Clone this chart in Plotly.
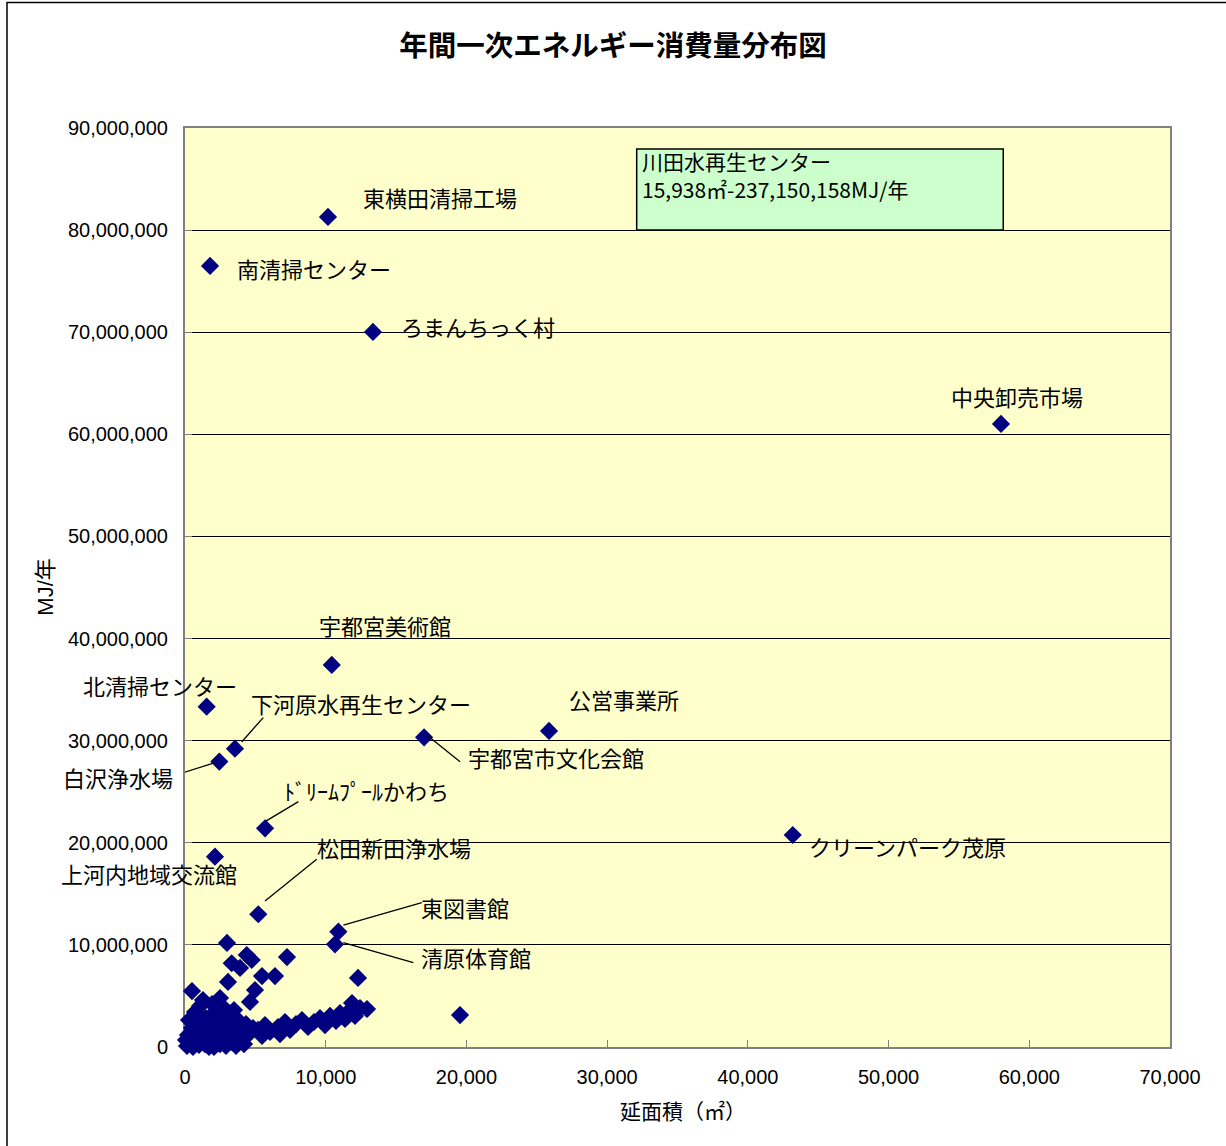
import plotly.graph_objects as go

# --- Named facilities: floor area (m²) and annual primary energy (MJ/year) ---
named_facilities = [
    "東横田清掃工場", "南清掃センター", "ろまんちっく村", "中央卸売市場",
    "宇都宮美術館", "北清掃センター", "下河原水再生センター", "公営事業所",
    "宇都宮市文化会館", "白沢浄水場", "ﾄﾞﾘｰﾑﾌﾟｰﾙかわち", "クリーンパーク茂原",
    "上河内地域交流館", "松田新田浄水場", "東図書館", "清原体育館",
]
named_area = [
    10160, 1780, 13360, 57990,
    10430, 1540, 3550, 25870,
    16990, 2440, 5690, 43190,
    2130, 5210, 10900, 10660,
]
named_energy = [
    81290000, 76490000, 70030000, 61020000,
    37420000, 33330000, 29220000, 30950000,
    30330000, 27950000, 21420000, 20760000,
    18640000, 13000000, 11290000, 10060000,
]

# --- Other facilities (unlabelled) ---
other_area = [
    2985, 4385, 3319, 3909, 4740, 7249, 5472, 6396, 3056, 12295,
    497, 4975, 4620, 1279, 2487, 12935, 11869, 19545,
    5188, 5686, 6041, 6610, 7107, 7462, 7889, 8315, 8742, 9168,
    9594, 9950, 10305, 10732, 11016, 11371, 11727, 12082, 12437,
    4477, 4833, 5472, 4122, 6752,
    142, 355, 569, 782, 995, 1208, 1421, 1635, 1848, 2061,
    2274, 2487, 2701, 2914, 3127, 3340, 3625, 3909, 4193,
    213, 497, 853, 1137, 1492, 1777, 2132, 2345, 2630, 2914,
    3198, 3482, 3767, 4051, 711, 1066, 1919, 2772, 3625, 4335,
    284, 71, 1706, 3056,
]
other_energy = [
    10190000, 9010000, 8200000, 7740000, 8520000, 8810000, 6950000, 6950000, 6370000, 6760000,
    5480000, 5580000, 4410000, 4600000, 4800000, 3720000, 4310000, 3130000,
    1670000, 2150000, 1470000, 1960000, 2450000, 1670000, 2250000, 2640000, 1960000, 2450000,
    2840000, 2150000, 3040000, 2550000, 3330000, 2740000, 3620000, 3040000, 3820000,
    1180000, 1860000, 1080000, 1670000, 1270000,
    100000, 390000, 0, 690000, 200000, 880000, 290000, 1180000, 490000, 0,
    980000, 290000, 690000, 100000, 1270000, 490000, 100000, 880000, 290000,
    1180000, 1860000, 2450000, 1670000, 2840000, 2060000, 3430000, 2450000, 1760000, 3040000,
    2250000, 3620000, 2640000, 1860000, 3430000, 4020000, 4210000, 3820000, 1470000, 2250000,
    2640000, 690000, 0, 690000,
]

# --- Off-scale facility, reported in a text box ---
offscale_name = "川田水再生センター"
offscale_area = 15938
offscale_energy = 237150158

# Axis ticks
x_ticks = [0, 10000, 20000, 30000, 40000, 50000, 60000, 70000]
y_ticks = [0, 10000000, 20000000, 30000000, 40000000, 50000000,
           60000000, 70000000, 80000000, 90000000]

# Label placement (pixel offsets from the marker: dx to the text's left edge, dy up)
label_offset = {
    "東横田清掃工場": (33, 20), "南清掃センター": (25, -2), "ろまんちっく村": (26, 6),
    "中央卸売市場": (-52, 28), "宇都宮美術館": (-15, 40), "北清掃センター": (-126, 22),
    "下河原水再生センター": (14, 46), "公営事業所": (18, 32), "宇都宮市文化会館": (42, -20),
    "白沢浄水場": (-158, -15), "ﾄﾞﾘｰﾑﾌﾟｰﾙかわち": (17, 38), "クリーンパーク茂原": (14, -11),
    "上河内地域交流館": (-156, -16), "松田新田浄水場": (57, 67), "東図書館": (81, 25),
    "清原体育館": (84, -13),
}
# Leader lines (pixel offsets from the marker: x0, y0, x1, y1, y up)
leader_lines = {
    "下河原水再生センター": (6.7, 6.6, 28.3, 31),
    "白沢浄水場": (-4.3, -1, -43.3, -13.3),
    "宇都宮市文化会館": (2.7, 2.3, 36, -24.4),
    "ﾄﾞﾘｰﾑﾌﾟｰﾙかわち": (0, 6.6, 33.3, 26.6),
    "松田新田浄水場": (6.7, 13.3, 58.4, 55),
    "東図書館": (5, 6.7, 83.4, 29),
    "清原体育館": (8.3, 1.6, 78.3, -18.4),
}

JP = "Noto Sans CJK JP"
NUM = "Liberation Sans, Arial, Noto Sans CJK JP"
MARK = "#000080"

fig = go.Figure()
fig.add_trace(go.Scatter(
    x=other_area + named_area,
    y=other_energy + named_energy,
    mode="markers",
    marker=dict(symbol="diamond", size=14, color=MARK, line=dict(width=0)),
    cliponaxis=False,
    hoverinfo="x+y",
    showlegend=False,
))

annotations = []
shapes = []
for name, xa, ye in zip(named_facilities, named_area, named_energy):
    dx, dy = label_offset[name]
    annotations.append(dict(
        x=xa, y=ye, xref="x", yref="y", text=name, showarrow=False,
        xanchor="left", yanchor="middle", xshift=dx, yshift=dy,
        font=dict(family=JP, size=22, color="black"),
    ))
    if name in leader_lines:
        x0, y0, x1, y1 = leader_lines[name]
        shapes.append(dict(
            type="line", xref="x", yref="y",
            xsizemode="pixel", ysizemode="pixel",
            xanchor=xa, yanchor=ye, x0=x0, y0=y0, x1=x1, y1=y1,
            line=dict(color="black", width=1.3),
        ))

# Text box for the off-scale facility
box_x0, box_x1 = 32100, 58150
box_y0, box_y1 = 80000000, 87950000
shapes.append(dict(
    type="rect", xref="x", yref="y", x0=box_x0, x1=box_x1, y0=box_y0, y1=box_y1,
    fillcolor="#CCFFCC", line=dict(color="black", width=1.5), layer="above",
))
box_lines = [
    offscale_name,
    f"{offscale_area:,}㎡-{offscale_energy:,}MJ/年",
]
for i, line_text in enumerate(box_lines):
    annotations.append(dict(
        x=box_x0, y=box_y1, xref="x", yref="y", xanchor="left", yanchor="middle",
        xshift=4, yshift=-12.5 - 28 * i, showarrow=False, align="left",
        borderpad=0, text=line_text,
        font=dict(family=JP, size=21, color="black"),
    ))

# Axis titles
annotations.append(dict(
    x=-0.142, y=0.5, xref="paper", yref="paper", text="MJ/年", textangle=-90,
    showarrow=False, xanchor="center", yanchor="middle",
    font=dict(family=NUM, size=22, color="black"),
))
annotations.append(dict(
    x=0.5, y=-0.0686, xref="paper", yref="paper", text="延面積（㎡）",
    showarrow=False, xanchor="center", yanchor="middle", xshift=5,
    font=dict(family=JP, size=21, color="black"),
))

# Outer chart frame
shapes.append(dict(
    type="rect", xref="paper", yref="paper", x0=-0.1807, x1=1.3, y0=-0.3, y1=1.1365,
    line=dict(color="black", width=1.5), fillcolor="rgba(0,0,0,0)", layer="below",
))

axis_common = dict(
    showline=True, mirror=True, linecolor="#808080", linewidth=2,
    ticks="inside", ticklen=7, tickcolor="#808080", tickwidth=1,
    zeroline=False, layer="below traces",
    tickfont=dict(family=NUM, size=20, color="black"),
    tickformat=",d",
)

fig.update_layout(
    width=1226, height=1146,
    margin=dict(l=185, r=56, t=128, b=99),
    paper_bgcolor="white", plot_bgcolor="#FFFFCC",
    title=dict(
        text="<b>年間一次エネルギー消費量分布図</b>",
        x=0.5, xref="container", xanchor="center",
        y=1 - 46 / 1146, yref="container", yanchor="middle",
        font=dict(family=JP, size=28.5, color="black"),
    ),
    xaxis=dict(range=[0, 70000], tickvals=x_ticks, showgrid=False,
               ticklabelstandoff=11, **axis_common),
    yaxis=dict(range=[0, 90000000], tickvals=y_ticks, showgrid=True,
               gridcolor="black", gridwidth=1, ticklabelstandoff=11, **axis_common),
    annotations=annotations,
    shapes=shapes,
)

fig.write_html("out.html")
